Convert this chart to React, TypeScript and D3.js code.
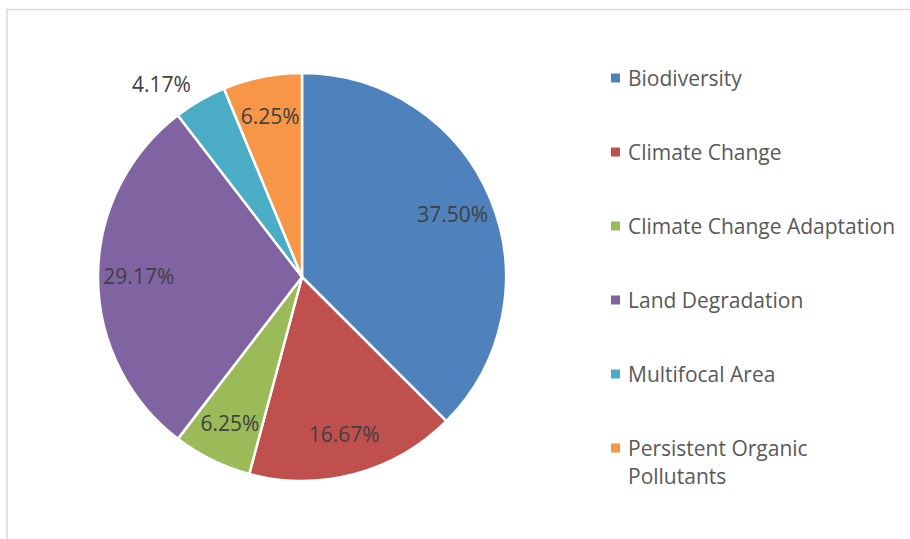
import React, { useEffect, useRef } from "react";
import * as d3 from "d3";

const categories = [
  "Biodiversity",
  "Climate Change",
  "Climate Change Adaptation",
  "Land Degradation",
  "Multifocal Area",
  "Persistent Organic Pollutants",
];
const shares = [37.5, 16.67, 6.25, 29.17, 4.17, 6.25];
const colors = ["#4F81BD", "#C0504D", "#9BBB59", "#8064A2", "#4BACC6", "#F79646"];
// which labels Excel pushed outside the slice
const outsideLabel = [false, false, false, false, true, false];

const W = 910;
const H = 539;

export default function App() {
  const svgRef = useRef<SVGSVGElement>(null);

  useEffect(() => {
    document.body.style.margin = "0";
    const svgEl = svgRef.current;
    if (!svgEl) return;
    const svg = d3.select(svgEl);
    svg.selectAll("*").remove();

    const font = "'Open Sans', sans-serif";
    const fs = 21;

    // chart frame
    svg.append("rect")
      .attr("x", 7)
      .attr("y", 9.5)
      .attr("width", W + 20)
      .attr("height", H + 20)
      .attr("fill", "#fff")
      .attr("stroke", "#d9d9d9")
      .attr("stroke-width", 1.5);

    const cx = 302;
    const cy = 277;
    const R = 204;

    const data = categories.map((c, i) => ({ name: c, value: shares[i], color: colors[i], outside: outsideLabel[i] }));
    type D = (typeof data)[number];

    const pie = d3.pie<D>().sort(null).value((d) => d.value).startAngle(0).endAngle(2 * Math.PI);
    const arc = d3.arc<d3.PieArcDatum<D>>().innerRadius(0).outerRadius(R);
    const arcs = pie(data);

    const g = svg.append("g").attr("transform", `translate(${cx},${cy})`);

    g.selectAll("path.slice")
      .data(arcs)
      .join("path")
      .attr("class", "slice")
      .attr("d", arc)
      .attr("fill", (d) => d.data.color)
      .attr("stroke", "#fff")
      .attr("stroke-width", 2.5)
      .attr("stroke-linejoin", "round");

    const inArc = d3.arc<d3.PieArcDatum<D>>().innerRadius(R * 0.8).outerRadius(R * 0.8);
    const outArc = d3.arc<d3.PieArcDatum<D>>().innerRadius(R * 1.09).outerRadius(R * 1.09);
    const mid = (d: d3.PieArcDatum<D>) => (d.startAngle + d.endAngle) / 2;

    g.selectAll("text.lbl")
      .data(arcs)
      .join("text")
      .attr("class", "lbl")
      .attr("transform", (d) => `translate(${(d.data.outside ? outArc : inArc).centroid(d)})`)
      .attr("text-anchor", (d) => (d.data.outside ? (mid(d) > Math.PI ? "end" : "start") : "middle"))
      .attr("dy", "0.35em")
      .attr("font-family", font)
      .attr("font-size", fs)
      .attr("fill", "#404040")
      .text((d) => d.data.value.toFixed(2) + "%");

    // legend
    const legend = svg.append("g").attr("transform", "translate(611,78)");
    const rowGap = 74;
    const maxW = 272;
    const item = legend.selectAll("g.item")
      .data(data)
      .join("g")
      .attr("class", "item")
      .attr("transform", (_d, i) => `translate(0,${i * rowGap})`);

    item.append("rect")
      .attr("x", 0)
      .attr("y", -4.5)
      .attr("width", 9)
      .attr("height", 9)
      .attr("fill", (d) => d.color);

    item.each(function (d) {
      const t = d3.select(this).append("text")
        .attr("x", 17)
        .attr("y", 0)
        .attr("font-family", font)
        .attr("font-size", fs)
        .attr("fill", "#595959");
      const words = d.name.split(" ");
      let line: string[] = [];
      let tspan = t.append("tspan").attr("x", 17).attr("dy", "0.36em");
      for (const w of words) {
        line.push(w);
        tspan.text(line.join(" "));
        if ((tspan.node() as SVGTSpanElement).getComputedTextLength() > maxW && line.length > 1) {
          line.pop();
          tspan.text(line.join(" "));
          line = [w];
          tspan = t.append("tspan").attr("x", 17).attr("dy", 28).text(w);
        }
      }
    });
  }, []);

  return (
    <div style={{ position: "absolute", left: 0, top: 0, width: W, height: H, overflow: "hidden" }}>
      <svg ref={svgRef} width={W} height={H} style={{ display: "block" }} />
    </div>
  );
}
